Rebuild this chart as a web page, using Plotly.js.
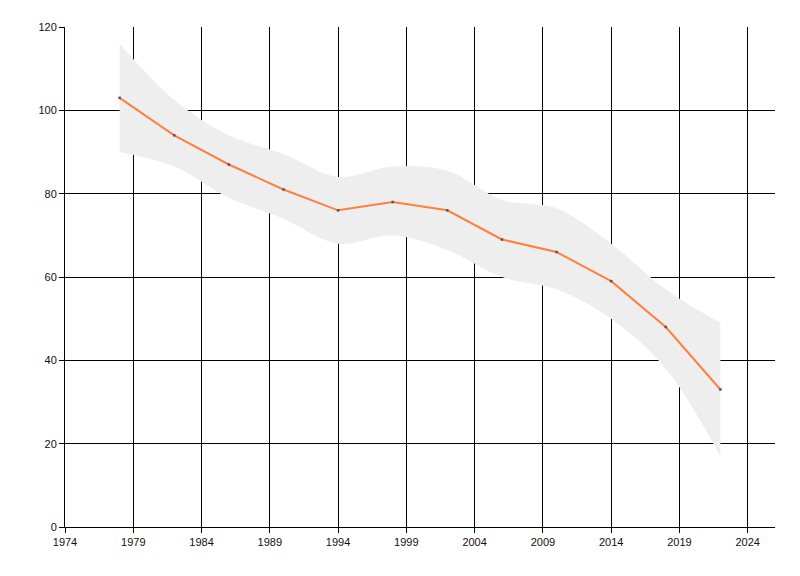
<!DOCTYPE html>
<html>
<head>
<meta charset="utf-8">
<script src="https://cdn.plot.ly/plotly-3.0.1.min.js"></script>
<style>
  html, body { margin: 0; padding: 0; background: #fff; }
  #chart { width: 800px; height: 576px; }
</style>
</head>
<body>
<div id="chart"></div>
<script>
// years of the measured points
const years = [1978, 1982, 1986, 1990, 1994, 1998, 2002, 2006, 2010, 2014, 2018, 2022];
// central values (orange line)
const values = [103, 94, 87, 81, 76, 78, 76, 69, 66, 59, 48, 33];
// band edges (grey area)
const upper = [116, 102.5, 94, 89.5, 84, 86.5, 85.5, 78.5, 76.5, 68, 57, 49];
const lower = [90, 86.5, 79, 74, 68, 70, 66.5, 60, 57, 50, 38, 17];

const traces = [
    {
        x: years, y: lower,
        type: 'scatter', mode: 'lines',
        line: { width: 0, shape: 'spline', smoothing: 1 },
        hoverinfo: 'skip', showlegend: false
    },
    {
        x: years, y: upper,
        type: 'scatter', mode: 'lines',
        line: { width: 0, shape: 'spline', smoothing: 1 },
        fill: 'tonexty', fillcolor: '#eeeeee',
        hoverinfo: 'skip', showlegend: false
    },
    {
        x: years, y: values,
        type: 'scatter', mode: 'lines+markers',
        line: { color: '#ff7f3f', width: 2 },
        marker: { color: '#555555', size: 2.5, symbol: 'square' },
        showlegend: false
    }
];

const tickFont = { family: 'Liberation Sans, Arial, sans-serif', size: 11, color: '#111' };

const layout = {
    width: 800, height: 576,
    margin: { l: 65, r: 25, t: 27, b: 49 },
    paper_bgcolor: '#ffffff',
    plot_bgcolor: '#ffffff',
    showlegend: false,
    xaxis: {
        range: [1974, 2026],
        tick0: 1974, dtick: 5,
        showgrid: true, gridcolor: '#000', gridwidth: 1,
        showline: true, linecolor: '#000', linewidth: 1,
        zeroline: false,
        ticks: 'outside', ticklen: 5, tickcolor: '#000',
        tickfont: tickFont
    },
    yaxis: {
        range: [0, 120],
        tick0: 0, dtick: 20,
        showgrid: true, gridcolor: '#000', gridwidth: 1,
        showline: true, linecolor: '#000', linewidth: 1,
        zeroline: false,
        ticks: 'outside', ticklen: 5, tickcolor: '#000',
        tickfont: tickFont
    }
};

Plotly.newPlot('chart', traces, layout, { displayModeBar: false, staticPlot: true });
</script>
</body>
</html>
